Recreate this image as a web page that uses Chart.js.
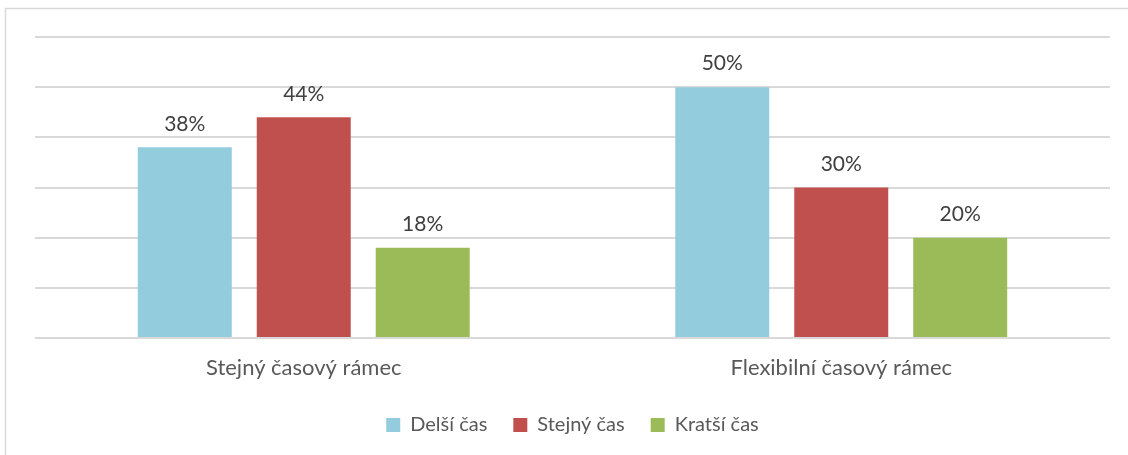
<!DOCTYPE html>
<html>
<head>
<meta charset="utf-8">
<script src="https://cdn.jsdelivr.net/npm/chart.js@4"></script>
<style>
html,body{margin:0;padding:0;background:#fff;}
#wrap{position:relative;width:1128px;height:455px;}
</style>
</head>
<body>
<div id="wrap"><canvas id="c" width="1128" height="455"></canvas></div>
<script>
const categories = ['Stejný časový rámec', 'Flexibilní časový rámec'];
const seriesNames = ['Delší čas', 'Stejný čas', 'Kratší čas'];
const delsiCas = [38, 50];
const stejnyCas = [44, 30];
const kratsiCas = [18, 20];
const colors = ['#93CDDD', '#C0504D', '#9BBB59'];
const FONT = 'Lato, "Open Sans", sans-serif';

const labelPlugin = {
  id: 'valueLabels',
  afterDatasetsDraw(chart) {
    const ctx = chart.ctx;
    ctx.save();
    ctx.font = '21px ' + FONT;
    ctx.fillStyle = '#404040';
    ctx.textAlign = 'center';
    ctx.textBaseline = 'bottom';
    chart.data.datasets.forEach((ds, i) => {
      const meta = chart.getDatasetMeta(i);
      meta.data.forEach((el, j) => {
        ctx.fillText(ds.data[j] + '%', el.x, el.y - 13);
      });
    });
    ctx.restore();
  }
};

const framePlugin = {
  id: 'frame',
  beforeDraw(chart) {
    const ctx = chart.ctx;
    ctx.save();
    ctx.strokeStyle = '#d9d9d9';
    ctx.lineWidth = 1.5;
    ctx.beginPath();
    ctx.moveTo(5.5, 455);
    ctx.lineTo(5.5, 8.5);
    ctx.lineTo(1128, 8.5);
    ctx.stroke();
    ctx.restore();
  }
};

new Chart(document.getElementById('c'), {
  type: 'bar',
  data: {
    labels: categories,
    datasets: [
      { label: seriesNames[0], data: delsiCas, backgroundColor: colors[0] },
      { label: seriesNames[1], data: stejnyCas, backgroundColor: colors[1] },
      { label: seriesNames[2], data: kratsiCas, backgroundColor: colors[2] }
    ]
  },
  options: {
    responsive: false,
    animation: false,
    devicePixelRatio: 1,
    categoryPercentage: 0.664,
    barPercentage: 0.79,
    layout: { padding: { left: 35, right: 18, top: 37, bottom: 10 } },
    scales: {
      x: {
        grid: { display: false, drawTicks: false },
        border: { display: false },
        ticks: { color: '#595959', font: { family: FONT, size: 22 }, padding: 17 },
        afterFit(scale) { scale.height = 51; }
      },
      y: {
        min: 0, max: 60,
        ticks: { display: false, stepSize: 10 },
        border: { display: false },
        grid: { color: '#d9d9d9', lineWidth: 2, drawTicks: false }
      }
    },
    plugins: {
      tooltip: { enabled: false },
      legend: {
        position: 'bottom',
        labels: {
          color: '#595959',
          font: { family: FONT, size: 20 },
          boxWidth: 14, boxHeight: 14,
          padding: 26
        }
      }
    }
  },
  plugins: [labelPlugin, framePlugin]
});
</script>
</body>
</html>
